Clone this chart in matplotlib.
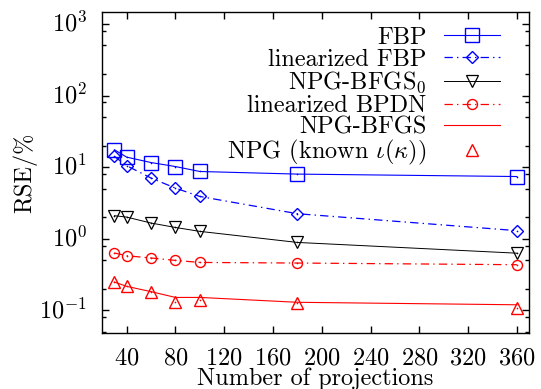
import numpy as np
import matplotlib
matplotlib.use('Agg')
import matplotlib.pyplot as plt
from matplotlib.ticker import LogLocator, FixedLocator, NullLocator
from matplotlib.transforms import ScaledTranslation

plt.rcParams['font.family'] = 'serif'
plt.rcParams['font.serif'] = ['cmr10']
plt.rcParams['mathtext.fontset'] = 'cm'
plt.rcParams['axes.formatter.use_mathtext'] = True
plt.rcParams['axes.unicode_minus'] = False
plt.rcParams['lines.scale_dashes'] = False

# number of projections
proj = [30, 40, 60, 80, 100, 180, 360]

# RSE (%) for each method
fbp = [17.5, 13.8, 11.6, 10.2, 8.7, 8.0, 7.4]
lin_fbp = [14.1, 10.5, 7.05, 5.1, 3.9, 2.24, 1.30]
npg_bfgs0 = [2.10, 2.01, 1.66, 1.44, 1.27, 0.89, 0.63]
lin_bpdn = [0.634, 0.58, 0.54, 0.50, 0.468, 0.459, 0.435]
npg_bfgs = [0.249, 0.217, 0.183, 0.152, 0.152, 0.130, 0.120]
npg_known = [0.249, 0.217, 0.183, 0.133, 0.1416, 0.127, 0.108]

xticks = [40, 80, 120, 160, 200, 240, 280, 320, 360]

dashdot = (0, (6, 3, 1, 3))
blue = '#0000ff'
red = '#ff0000'
fs = 17.5

fig = plt.figure(figsize=(5.41, 3.89), dpi=100)
ax = fig.add_axes([0.189, 0.1432, 0.789, 0.8252])

ax.plot(proj, fbp, color=blue, lw=0.8, marker='s', ms=9.4, mfc='none', mew=1.0,
        label='FBP')
ax.plot(proj, lin_fbp, color=blue, lw=0.9, ls=dashdot, marker='D', ms=6.3, mfc='none',
        mew=1.0, label='linearized FBP')
ax.plot(proj, npg_bfgs0, color='black', lw=0.7, marker='v', ms=8.4, mfc='none', mew=0.9,
        label=r'NPG-BFGS$_0$')
ax.plot(proj, lin_bpdn, color=red, lw=0.9, ls=dashdot, marker='o', ms=7.2, mfc='none',
        mew=1.0, label='linearized BPDN')
ax.plot(proj, npg_bfgs, color=red, lw=0.8, label='NPG-BFGS')
ax.plot(proj, npg_known, ls='none', color=red, marker='^', ms=8.4, mfc='none', mew=1.0,
        label=r'NPG (known $\iota(\kappa)$)')

# small centre dots like gnuplot points
for ys, c in [(fbp, blue), (lin_fbp, blue), (npg_bfgs0, 'black'), (lin_bpdn, red), (npg_known, red)]:
    ax.plot(proj, ys, ls='none', marker='o', ms=1.2, color=c, mew=0)

ax.set_yscale('log')
ax.set_xlim(20, 370)
ax.set_ylim(0.048, 1450)
ax.xaxis.set_major_locator(FixedLocator(xticks))
ax.xaxis.set_minor_locator(NullLocator())
ax.yaxis.set_major_locator(LogLocator(base=10, numticks=10))
ax.yaxis.set_minor_locator(LogLocator(base=10, subs=[2, 5, 8], numticks=10))

ax.tick_params(which='both', direction='in', top=True, right=True, labelsize=fs)
ax.tick_params(which='major', length=5, width=1.0)
ax.tick_params(which='minor', length=3, width=1.0)
ax.tick_params(axis='x', pad=10)
ax.tick_params(axis='y', pad=11)
for s in ax.spines.values():
    s.set_linewidth(1.0)

# keep the digits of 10^k centred on the tick, like gnuplot
shift = ScaledTranslation(0, 2 / 72, fig.dpi_scale_trans)
for lab in ax.get_yticklabels():
    lab.set_transform(lab.get_transform() + shift)

ax.set_xlabel('Number of projections', fontsize=fs, labelpad=-1)
ax.set_ylabel('RSE/%', fontsize=fs, labelpad=1)

ax.legend(loc='upper right', bbox_to_anchor=(0.931, 0.955), frameon=False, markerfirst=False,
          fontsize=fs, handlelength=2.3, handletextpad=0.7, labelspacing=-0.02,
          borderpad=0, borderaxespad=0)

fig.savefig('out.png', dpi=100)
